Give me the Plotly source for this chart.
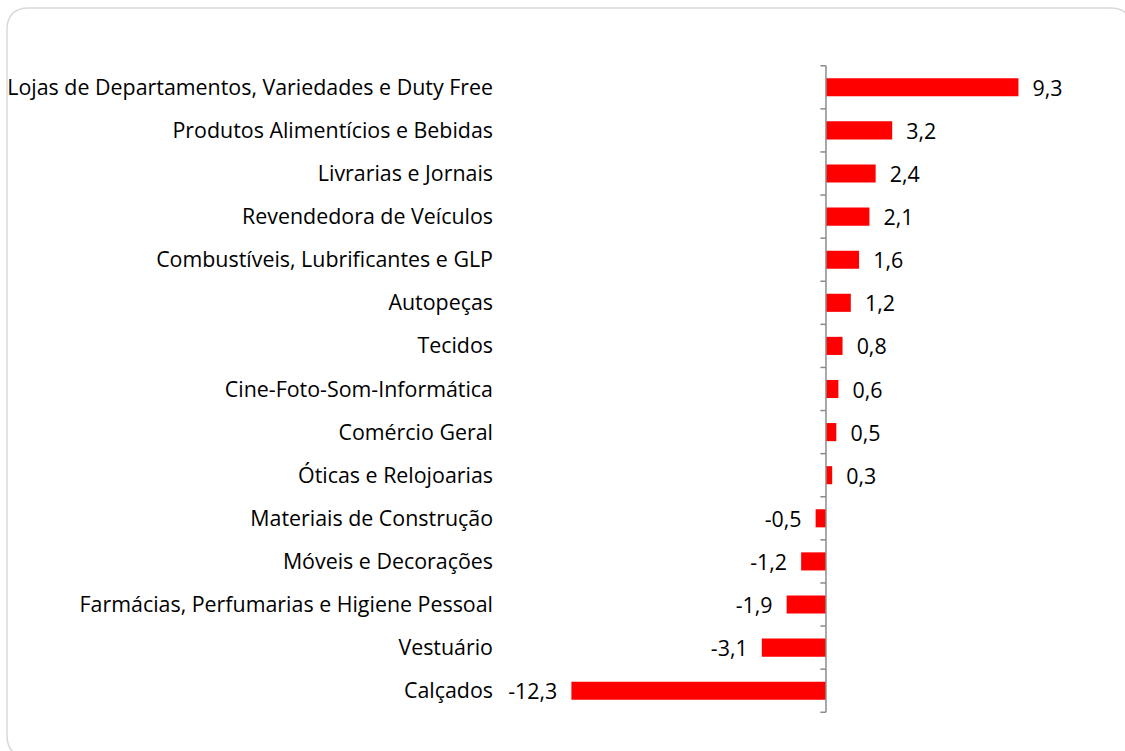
import plotly.graph_objects as go

categories = [
    "Lojas de Departamentos, Variedades e Duty Free",
    "Produtos Alimentícios e Bebidas",
    "Livrarias e Jornais",
    "Revendedora de Veículos",
    "Combustíveis, Lubrificantes e GLP",
    "Autopeças",
    "Tecidos",
    "Cine-Foto-Som-Informática",
    "Comércio Geral",
    "Óticas e Relojoarias",
    "Materiais de Construção",
    "Móveis e Decorações",
    "Farmácias, Perfumarias e Higiene Pessoal",
    "Vestuário",
    "Calçados",
]
values = [9.3, 3.2, 2.4, 2.1, 1.6, 1.2, 0.8, 0.6, 0.5, 0.3, -0.5, -1.2, -1.9, -3.1, -12.3]

W, H = 1125, 751
ML, MR, MT, MB = 500, 25, 65, 38
PW, PH = W - ML - MR, H - MT - MB
FONT = "Open Sans"
FS = 21.4
PAD = "\u00a0\u00a0"

labels = []
for v in values:
    s = f"{v:.1f}".replace(".", ",")
    labels.append(PAD + s if v >= 0 else s + PAD)

fig = go.Figure(go.Bar(
    y=categories, x=values, orientation="h",
    marker=dict(color="#ff0000", line=dict(width=0)),
    width=0.42,
    text=labels,
    textposition="outside", cliponaxis=False, constraintext="none",
    textfont=dict(family=FONT, size=FS, color="#000000"),
    hoverinfo="y+x",
))

shapes = []
# axis line at zero
shapes.append(dict(type="line", xref="x", yref="y", x0=0, x1=0, y0=-0.5, y1=len(categories) - 0.5,
                   line=dict(color="#8c8c8c", width=1.5)))
# ticks between categories
for i in range(len(categories) + 1):
    shapes.append(dict(type="line", xref="x", yref="y", x0=-0.27, x1=0, y0=i - 0.5, y1=i - 0.5,
                       line=dict(color="#8c8c8c", width=1.5)))

# rounded border (paper coords)
def px_x(p):
    return (p - ML) / PW

def px_y(p):
    return (H - MB - p) / PH

L, R, T, B, r = 7, 1132, 8, 757, 22
path = (f"M {px_x(L + r)},{px_y(T)} L {px_x(R - r)},{px_y(T)} "
        f"Q {px_x(R)},{px_y(T)} {px_x(R)},{px_y(T + r)} "
        f"L {px_x(R)},{px_y(B - r)} Q {px_x(R)},{px_y(B)} {px_x(R - r)},{px_y(B)} "
        f"L {px_x(L + r)},{px_y(B)} Q {px_x(L)},{px_y(B)} {px_x(L)},{px_y(B - r)} "
        f"L {px_x(L)},{px_y(T + r)} Q {px_x(L)},{px_y(T)} {px_x(L + r)},{px_y(T)} Z")
shapes.append(dict(type="path", xref="paper", yref="paper", path=path,
                   line=dict(color="#d9d9d9", width=1.5), layer="below"))

fig.update_layout(
    width=W, height=H,
    margin=dict(l=ML, r=MR, t=MT, b=MB, autoexpand=False),
    paper_bgcolor="white", plot_bgcolor="white",
    showlegend=False,
    shapes=shapes,
    xaxis=dict(range=[-15.75, 13.24], showgrid=False, zeroline=False, showticklabels=False,
               showline=False, ticks=""),
    yaxis=dict(autorange="reversed", categoryorder="array", categoryarray=categories,
               showgrid=False, zeroline=False, showline=False, ticks="",
               tickfont=dict(family=FONT, size=FS, color="#000000"),
               ticklabelstandoff=6),
)

fig.write_html("out.html", config={"displayModeBar": False},
               post_script="document.body.style.margin='0';document.body.style.overflow='hidden';")
